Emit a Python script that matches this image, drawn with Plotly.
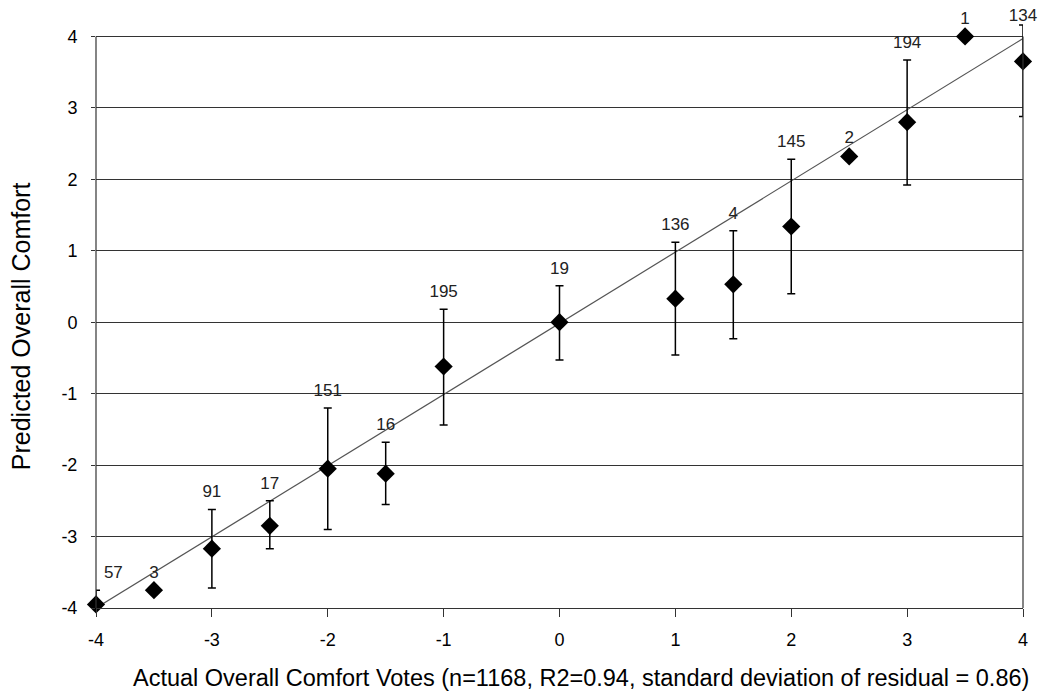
import plotly.graph_objects as go

# actual comfort votes, predicted means and the range of each bar
actual_votes = [-4, -3.5, -3, -2.5, -2, -1.5, -1, 0, 1, 1.5, 2, 2.5, 3, 3.5, 4]
predicted_mean = [-3.95, -3.75, -3.17, -2.85, -2.05, -2.12, -0.62, 0.0, 0.33, 0.53, 1.34, 2.32, 2.80, 4.0, 3.65]
predicted_upper = [-3.75, -3.75, -2.62, -2.50, -1.20, -1.68, 0.18, 0.51, 1.12, 1.28, 2.28, 2.34, 3.67, 4.0, 4.16]
predicted_lower = [-3.95, -3.75, -3.72, -3.17, -2.90, -2.55, -1.44, -0.53, -0.46, -0.23, 0.40, 2.30, 1.92, 4.0, 2.88]
sample_counts = ["57", "3", "91", "17", "151", "16", "195", "19", "136", "4", "145", "2", "194", "1", "134"]

fit_x = [-4, 4]
fit_y = [-4, 3.97]

tick_vals = [-4, -3, -2, -1, 0, 1, 2, 3, 4]
tick_text = ["-4", "-3", "-2", "-1", "0", "1", "2", "3", "4"]

x_title = 'Actual Overall Comfort Votes (n=1168, R2=0.94, standard deviation of residual = 0.86)'
y_title = 'Predicted Overall Comfort'

err_plus = [u - m for u, m in zip(predicted_upper, predicted_mean)]
err_minus = [m - l for m, l in zip(predicted_mean, predicted_lower)]

# a little room above 4 so the top bar and its count are not hidden
y_top = 4.3
plot_h = 608 - 36
top_margin = 36 - (y_top - 4) * plot_h / 8

fit_trace = go.Scatter(x=fit_x, y=fit_y, mode='lines',
                       line=dict(color='#555555', width=1.2),
                       hoverinfo='none', cliponaxis=False)

point_trace = go.Scatter(
    x=actual_votes, y=predicted_mean,
    mode='markers',
    marker=dict(symbol='diamond', size=14, color='black'),
    error_y=dict(type='data', array=err_plus, arrayminus=err_minus,
                 color='black', thickness=1.5, width=4),
    cliponaxis=False,
)

# invisible markers push the count labels up; the one above 4 sits tighter
label_pos = ['top right' if x == -4 else 'top center' for x in actual_votes]
label_gap = [0 if top > 4 else 11 for top in predicted_upper]
label_trace = go.Scatter(
    x=actual_votes, y=predicted_upper,
    mode='markers+text', text=sample_counts, textposition=label_pos,
    marker=dict(size=label_gap, opacity=0),
    textfont=dict(family='Arial, Liberation Sans', size=17, color='#222222'),
    hoverinfo='none', cliponaxis=False,
)

fig = go.Figure(data=[fit_trace, point_trace, label_trace])

# left and right frame lines stop at 4, like the gridlines
for side in [0, 1]:
    fig.add_shape(type='line', xref='paper', yref='y', x0=side, x1=side, y0=-4, y1=4,
                  line=dict(color='#333333', width=1.2))

fig.add_annotation(text=x_title, xref='paper', yref='paper', x=0.523, y=0,
                   yanchor='top', yshift=-55, showarrow=False,
                   font=dict(family='Arial, Liberation Sans', size=23.5, color='black'))
fig.add_annotation(text=y_title, xref='paper', yref='y', x=0, y=0, textangle=-90,
                   xanchor='center', xshift=-75, yshift=-4, showarrow=False,
                   font=dict(family='Arial, Liberation Sans', size=25, color='black'))

fig.update_layout(
    width=1045, height=692,
    plot_bgcolor='white', paper_bgcolor='white',
    showlegend=False,
    margin=dict(l=96, r=22, t=top_margin, b=84, autoexpand=False),
    font=dict(family='Arial, Liberation Sans', color='black'),
    xaxis=dict(range=[-4, 4], tickvals=tick_vals, ticktext=tick_text,
               showgrid=False, zeroline=False,
               showline=True, linecolor='#333333', linewidth=1.2,
               ticks='outside', ticklen=8, tickcolor='#333333',
               ticklabelstandoff=7, tickfont=dict(size=18)),
    yaxis=dict(range=[-4, y_top], tickvals=tick_vals, ticktext=tick_text,
               showgrid=True, gridcolor='#333333', gridwidth=1.2,
               zeroline=False, showline=False,
               ticks='outside', ticklen=4, tickcolor='#333333',
               ticklabelstandoff=10, tickfont=dict(size=18)),
)

# drop the default page margin so the figure fills the window
fig.write_html("out.html", config={'displayModeBar': False},
               post_script="document.body.style.margin = '0';")
